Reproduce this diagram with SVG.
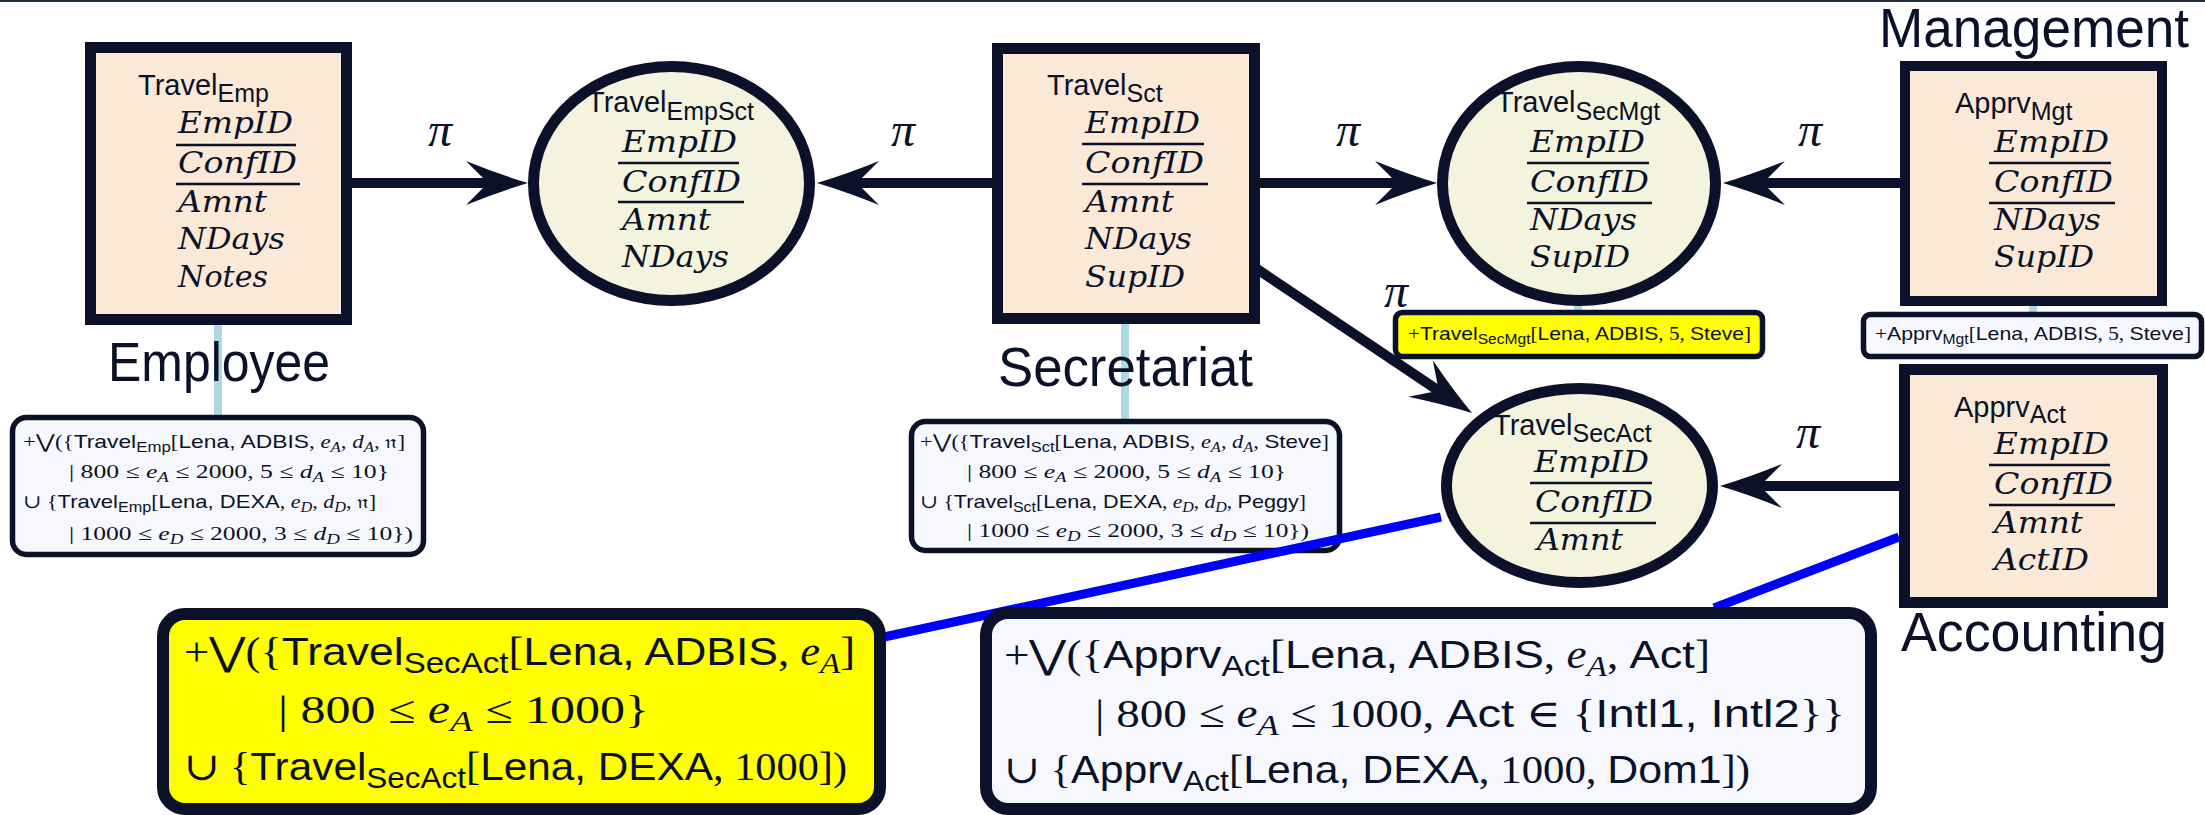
<svg xmlns="http://www.w3.org/2000/svg" width="2205" height="815" viewBox="0 0 2205 815">
<style>
text{fill:#0a1128;font-family:"Liberation Serif","DejaVu Serif",serif}
.lbl{font-family:"Liberation Sans",sans-serif;font-size:55px}
.ttl{font-family:"Liberation Sans",sans-serif;font-size:29px}
.tsb{font-size:25px}
.at{font-family:"DejaVu Serif",serif;font-style:italic;font-size:29px}
.pi{font-family:"Liberation Serif",serif;font-style:italic;font-size:48px}
.ul{stroke:#0a1128;stroke-width:2.5}
.box{fill:#fae9d7;stroke:#0a1128;stroke-width:11}
.ell{fill:#f4f3dd;stroke:#0a1128;stroke-width:11}
.note{fill:#f7f8fd;stroke:#0a1128;stroke-width:5.5}
.ynote{fill:#ffff00;stroke:#0a1128;stroke-width:5.5}
.bignote{fill:#f7f8fd;stroke:#0a1128;stroke-width:12}
.ybignote{fill:#ffff00;stroke:#0a1128;stroke-width:12}
.n1{font-size:19px}
.n2{font-size:39px}
.sf{font-family:"Liberation Sans",sans-serif}
.it{font-style:italic}
.b1{font-size:14px}
.b2{font-size:29px}
.arr{stroke:#0a1128;stroke-width:10;fill:none}
.lb{stroke:#add8e6;stroke-width:8}
.bl{stroke:#0000ff;stroke-width:9}
</style>
<defs>
<path id="ah" d="M0,0 Q-30,-9 -62,-22 Q-46,-6 -40,0 Q-46,6 -62,22 Q-30,9 0,0Z" fill="#0a1128"/>
</defs>
<rect x="0" y="0" width="2205" height="2" fill="#1e2d3d"/>

<g id="connectors">
<line class="arr" x1="352" y1="183" x2="492" y2="183"/>
<use href="#ah" transform="translate(528,183)"/>
<line class="arr" x1="992" y1="183" x2="853" y2="183"/>
<use href="#ah" transform="translate(817,183) rotate(180)"/>
<line class="arr" x1="1260" y1="183" x2="1401" y2="183"/>
<use href="#ah" transform="translate(1437,183)"/>
<line class="arr" x1="1900" y1="183" x2="1759" y2="183"/>
<use href="#ah" transform="translate(1723,183) rotate(180)"/>
<line class="arr" x1="1899" y1="486" x2="1756" y2="486"/>
<use href="#ah" transform="translate(1720,486) rotate(180)"/>
<line class="arr" x1="1257" y1="269" x2="1442" y2="393"/>
<use href="#ah" transform="translate(1472,413) rotate(33.9)"/>
<text class="pi" x="440" y="146" text-anchor="middle">π</text>
<text class="pi" x="903" y="146" text-anchor="middle">π</text>
<text class="pi" x="1348" y="146" text-anchor="middle">π</text>
<text class="pi" x="1810" y="146" text-anchor="middle">π</text>
<text class="pi" x="1808" y="448" text-anchor="middle">π</text>
<text class="pi" x="1396" y="307" text-anchor="middle">π</text>
<line class="lb" x1="218" y1="325" x2="218" y2="416"/>
<line class="lb" x1="1125" y1="324" x2="1125" y2="420"/>
<line class="lb" x1="1578" y1="304" x2="1578" y2="312"/>
<line class="lb" x1="2033" y1="304" x2="2033" y2="314"/>
</g>

<g id="employee">
<rect class="box" x="90.5" y="47.5" width="256" height="272"/>
<text class="ttl" x="138" y="95">Travel<tspan class="tsb" dy="7">Emp</tspan></text>
<text class="at" x="178" y="133" textLength="115" lengthAdjust="spacingAndGlyphs">EmpID</text>
<line class="ul" x1="176" y1="145" x2="296" y2="145"/>
<text class="at" x="178" y="173" textLength="119" lengthAdjust="spacingAndGlyphs">ConfID</text>
<line class="ul" x1="176" y1="184" x2="300" y2="184"/>
<text class="at" x="178" y="212" textLength="89" lengthAdjust="spacingAndGlyphs">Amnt</text>
<text class="at" x="178" y="249" textLength="107" lengthAdjust="spacingAndGlyphs">NDays</text>
<text class="at" x="178" y="287" textLength="90" lengthAdjust="spacingAndGlyphs">Notes</text>
<text class="lbl" x="108" y="381" textLength="222" lengthAdjust="spacingAndGlyphs">Employee</text>
</g>

<g id="travelEmpSct">
<ellipse class="ell" cx="671.5" cy="183.5" rx="138" ry="117"/>
<text class="ttl" x="587" y="112">Travel<tspan class="tsb" dy="8">EmpSct</tspan></text>
<text class="at" x="622" y="152" textLength="115" lengthAdjust="spacingAndGlyphs">EmpID</text>
<line class="ul" x1="618" y1="163" x2="739" y2="163"/>
<text class="at" x="622" y="192" textLength="119" lengthAdjust="spacingAndGlyphs">ConfID</text>
<line class="ul" x1="618" y1="202" x2="744" y2="202"/>
<text class="at" x="622" y="230" textLength="89" lengthAdjust="spacingAndGlyphs">Amnt</text>
<text class="at" x="622" y="267" textLength="107" lengthAdjust="spacingAndGlyphs">NDays</text>
</g>

<g id="secretariat">
<rect class="box" x="997.5" y="48.5" width="257" height="270"/>
<text class="ttl" x="1047" y="95">Travel<tspan class="tsb" dy="7">Sct</tspan></text>
<text class="at" x="1085" y="133" textLength="115" lengthAdjust="spacingAndGlyphs">EmpID</text>
<line class="ul" x1="1082" y1="144" x2="1204" y2="144"/>
<text class="at" x="1085" y="173" textLength="119" lengthAdjust="spacingAndGlyphs">ConfID</text>
<line class="ul" x1="1082" y1="184" x2="1208" y2="184"/>
<text class="at" x="1085" y="212" textLength="89" lengthAdjust="spacingAndGlyphs">Amnt</text>
<text class="at" x="1085" y="249" textLength="107" lengthAdjust="spacingAndGlyphs">NDays</text>
<text class="at" x="1085" y="287" textLength="100" lengthAdjust="spacingAndGlyphs">SupID</text>
<text class="lbl" x="998" y="386" textLength="255" lengthAdjust="spacingAndGlyphs">Secretariat</text>
</g>

<g id="travelSecMgt">
<ellipse class="ell" cx="1579" cy="183.5" rx="136.5" ry="117"/>
<text class="ttl" x="1496" y="112">Travel<tspan class="tsb" dy="8">SecMgt</tspan></text>
<text class="at" x="1530" y="152" textLength="115" lengthAdjust="spacingAndGlyphs">EmpID</text>
<line class="ul" x1="1527" y1="163" x2="1649" y2="163"/>
<text class="at" x="1530" y="192" textLength="119" lengthAdjust="spacingAndGlyphs">ConfID</text>
<line class="ul" x1="1527" y1="203" x2="1652" y2="203"/>
<text class="at" x="1530" y="230" textLength="107" lengthAdjust="spacingAndGlyphs">NDays</text>
<text class="at" x="1530" y="267" textLength="100" lengthAdjust="spacingAndGlyphs">SupID</text>
</g>

<g id="management">
<rect class="box" x="1905" y="66" width="257" height="235" style="stroke-width:10"/>
<text class="ttl" x="1955" y="113">Apprv<tspan class="tsb" dy="7">Mgt</tspan></text>
<text class="at" x="1994" y="152" textLength="115" lengthAdjust="spacingAndGlyphs">EmpID</text>
<line class="ul" x1="1989" y1="163" x2="2111" y2="163"/>
<text class="at" x="1994" y="192" textLength="119" lengthAdjust="spacingAndGlyphs">ConfID</text>
<line class="ul" x1="1989" y1="203" x2="2115" y2="203"/>
<text class="at" x="1994" y="230" textLength="107" lengthAdjust="spacingAndGlyphs">NDays</text>
<text class="at" x="1994" y="267" textLength="100" lengthAdjust="spacingAndGlyphs">SupID</text>
<text class="lbl" x="1879" y="47" textLength="310" lengthAdjust="spacingAndGlyphs">Management</text>
</g>

<g id="travelSecAct">
<ellipse class="ell" cx="1579.5" cy="485.5" rx="133" ry="97"/>
<text class="ttl" x="1493" y="435">Travel<tspan class="tsb" dy="7">SecAct</tspan></text>
<text class="at" x="1534" y="472" textLength="115" lengthAdjust="spacingAndGlyphs">EmpID</text>
<line class="ul" x1="1530" y1="483" x2="1652" y2="483"/>
<text class="at" x="1535" y="512" textLength="118" lengthAdjust="spacingAndGlyphs">ConfID</text>
<line class="ul" x1="1530" y1="523" x2="1656" y2="523"/>
<text class="at" x="1537" y="550" textLength="86" lengthAdjust="spacingAndGlyphs">Amnt</text>
</g>

<g id="accounting">
<rect class="box" x="1904.5" y="369.5" width="258" height="233"/>
<text class="ttl" x="1954" y="417">Apprv<tspan class="tsb" dy="6">Act</tspan></text>
<text class="at" x="1994" y="454" textLength="115" lengthAdjust="spacingAndGlyphs">EmpID</text>
<line class="ul" x1="1989" y1="465" x2="2110" y2="465"/>
<text class="at" x="1994" y="494" textLength="119" lengthAdjust="spacingAndGlyphs">ConfID</text>
<line class="ul" x1="1989" y1="505" x2="2115" y2="505"/>
<text class="at" x="1994" y="533" textLength="89" lengthAdjust="spacingAndGlyphs">Amnt</text>
<text class="at" x="1994" y="570" textLength="95" lengthAdjust="spacingAndGlyphs">ActID</text>
<text class="lbl" x="1901" y="651" textLength="266" lengthAdjust="spacingAndGlyphs">Accounting</text>
</g>

<g id="noteEmployee">
<rect class="note" x="12.5" y="417.5" width="411" height="137" rx="14"/>
<text class="n1" x="23" y="448" textLength="382" lengthAdjust="spacingAndGlyphs">+⋁({<tspan class="sf">Travel</tspan><tspan class="sf b1" dy="4">Emp</tspan><tspan dy="-4">[</tspan><tspan class="sf">Lena, ADBIS</tspan>, <tspan class="it">e</tspan><tspan class="it b1" dy="4">A</tspan><tspan dy="-4">, </tspan><tspan class="it">d</tspan><tspan class="it b1" dy="4">A</tspan><tspan dy="-4">, 𝔫]</tspan></text>
<text class="n1" x="69" y="478" textLength="320" lengthAdjust="spacingAndGlyphs">| 800 ≤ <tspan class="it">e</tspan><tspan class="it b1" dy="4">A</tspan><tspan dy="-4"> ≤ 2000, 5 ≤ </tspan><tspan class="it">d</tspan><tspan class="it b1" dy="4">A</tspan><tspan dy="-4"> ≤ 10}</tspan></text>
<text class="n1" x="23" y="508" textLength="353" lengthAdjust="spacingAndGlyphs">∪ {<tspan class="sf">Travel</tspan><tspan class="sf b1" dy="4">Emp</tspan><tspan dy="-4">[</tspan><tspan class="sf">Lena, DEXA</tspan>, <tspan class="it">e</tspan><tspan class="it b1" dy="4">D</tspan><tspan dy="-4">, </tspan><tspan class="it">d</tspan><tspan class="it b1" dy="4">D</tspan><tspan dy="-4">, 𝔫]</tspan></text>
<text class="n1" x="69" y="540" textLength="344" lengthAdjust="spacingAndGlyphs">| 1000 ≤ <tspan class="it">e</tspan><tspan class="it b1" dy="4">D</tspan><tspan dy="-4"> ≤ 2000, 3 ≤ </tspan><tspan class="it">d</tspan><tspan class="it b1" dy="4">D</tspan><tspan dy="-4"> ≤ 10})</tspan></text>
</g>

<g id="noteSecretariat">
<rect class="note" x="911.5" y="421.5" width="428" height="129" rx="14"/>
<text class="n1" x="920" y="448" textLength="409" lengthAdjust="spacingAndGlyphs">+⋁({<tspan class="sf">Travel</tspan><tspan class="sf b1" dy="4">Sct</tspan><tspan dy="-4">[</tspan><tspan class="sf">Lena, ADBIS</tspan>, <tspan class="it">e</tspan><tspan class="it b1" dy="4">A</tspan><tspan dy="-4">, </tspan><tspan class="it">d</tspan><tspan class="it b1" dy="4">A</tspan><tspan dy="-4">, </tspan><tspan class="sf">Steve</tspan>]</text>
<text class="n1" x="967" y="478" textLength="319" lengthAdjust="spacingAndGlyphs">| 800 ≤ <tspan class="it">e</tspan><tspan class="it b1" dy="4">A</tspan><tspan dy="-4"> ≤ 2000, 5 ≤ </tspan><tspan class="it">d</tspan><tspan class="it b1" dy="4">A</tspan><tspan dy="-4"> ≤ 10}</tspan></text>
<text class="n1" x="920" y="508" textLength="386" lengthAdjust="spacingAndGlyphs">∪ {<tspan class="sf">Travel</tspan><tspan class="sf b1" dy="4">Sct</tspan><tspan dy="-4">[</tspan><tspan class="sf">Lena, DEXA</tspan>, <tspan class="it">e</tspan><tspan class="it b1" dy="4">D</tspan><tspan dy="-4">, </tspan><tspan class="it">d</tspan><tspan class="it b1" dy="4">D</tspan><tspan dy="-4">, </tspan><tspan class="sf">Peggy</tspan>]</text>
<text class="n1" x="967" y="537" textLength="342" lengthAdjust="spacingAndGlyphs">| 1000 ≤ <tspan class="it">e</tspan><tspan class="it b1" dy="4">D</tspan><tspan dy="-4"> ≤ 2000, 3 ≤ </tspan><tspan class="it">d</tspan><tspan class="it b1" dy="4">D</tspan><tspan dy="-4"> ≤ 10})</tspan></text>
</g>

<g id="blueLinks">
<line class="bl" x1="1441" y1="517" x2="884" y2="637"/>
<line class="bl" x1="1899" y1="537" x2="1714" y2="608"/>
</g>

<g id="noteSecMgt">
<rect class="ynote" x="1395.5" y="312.5" width="367" height="44" rx="7"/>
<text class="n1" x="1408" y="340" textLength="343" lengthAdjust="spacingAndGlyphs">+<tspan class="sf">Travel</tspan><tspan class="sf b1" dy="4">SecMgt</tspan><tspan dy="-4">[</tspan><tspan class="sf">Lena, ADBIS</tspan>, 5, <tspan class="sf">Steve</tspan>]</text>
</g>

<g id="noteMgt">
<rect class="note" x="1863.5" y="314.5" width="338" height="42" rx="7"/>
<text class="n1" x="1875" y="340" textLength="316" lengthAdjust="spacingAndGlyphs">+<tspan class="sf">Apprv</tspan><tspan class="sf b1" dy="4">Mgt</tspan><tspan dy="-4">[</tspan><tspan class="sf">Lena, ADBIS</tspan>, 5, <tspan class="sf">Steve</tspan>]</text>
</g>

<g id="noteSecAct">
<rect class="ybignote" x="163" y="614" width="717" height="195" rx="22"/>
<text class="n2" x="184" y="665" textLength="671" lengthAdjust="spacingAndGlyphs">+⋁({<tspan class="sf">Travel</tspan><tspan class="sf b2" dy="8">SecAct</tspan><tspan dy="-8">[</tspan><tspan class="sf">Lena, ADBIS</tspan>, <tspan class="it">e</tspan><tspan class="it b2" dy="8">A</tspan><tspan dy="-8">]</tspan></text>
<text class="n2" x="278" y="723" textLength="371" lengthAdjust="spacingAndGlyphs">| 800 ≤ <tspan class="it">e</tspan><tspan class="it b2" dy="8">A</tspan><tspan dy="-8"> ≤ 1000}</tspan></text>
<text class="n2" x="184" y="780" textLength="663" lengthAdjust="spacingAndGlyphs">∪ {<tspan class="sf">Travel</tspan><tspan class="sf b2" dy="8">SecAct</tspan><tspan dy="-8">[</tspan><tspan class="sf">Lena, DEXA</tspan>, 1000])</text>
</g>

<g id="noteAct">
<rect class="bignote" x="986" y="613" width="885" height="196" rx="22"/>
<text class="n2" x="1004" y="668" textLength="706" lengthAdjust="spacingAndGlyphs">+⋁({<tspan class="sf">Apprv</tspan><tspan class="sf b2" dy="8">Act</tspan><tspan dy="-8">[</tspan><tspan class="sf">Lena, ADBIS</tspan>, <tspan class="it">e</tspan><tspan class="it b2" dy="8">A</tspan><tspan dy="-8">, </tspan><tspan class="sf">Act</tspan>]</text>
<text class="n2" x="1095" y="727" textLength="750" lengthAdjust="spacingAndGlyphs">| 800 ≤ <tspan class="it">e</tspan><tspan class="it b2" dy="8">A</tspan><tspan dy="-8"> ≤ 1000, </tspan><tspan class="sf">Act</tspan> ∈ {<tspan class="sf">Intl1, Intl2</tspan>}}</text>
<text class="n2" x="1004" y="783" textLength="746" lengthAdjust="spacingAndGlyphs">∪ {<tspan class="sf">Apprv</tspan><tspan class="sf b2" dy="8">Act</tspan><tspan dy="-8">[</tspan><tspan class="sf">Lena, DEXA</tspan>, 1000, <tspan class="sf">Dom1</tspan>])</text>
</g>
</svg>
